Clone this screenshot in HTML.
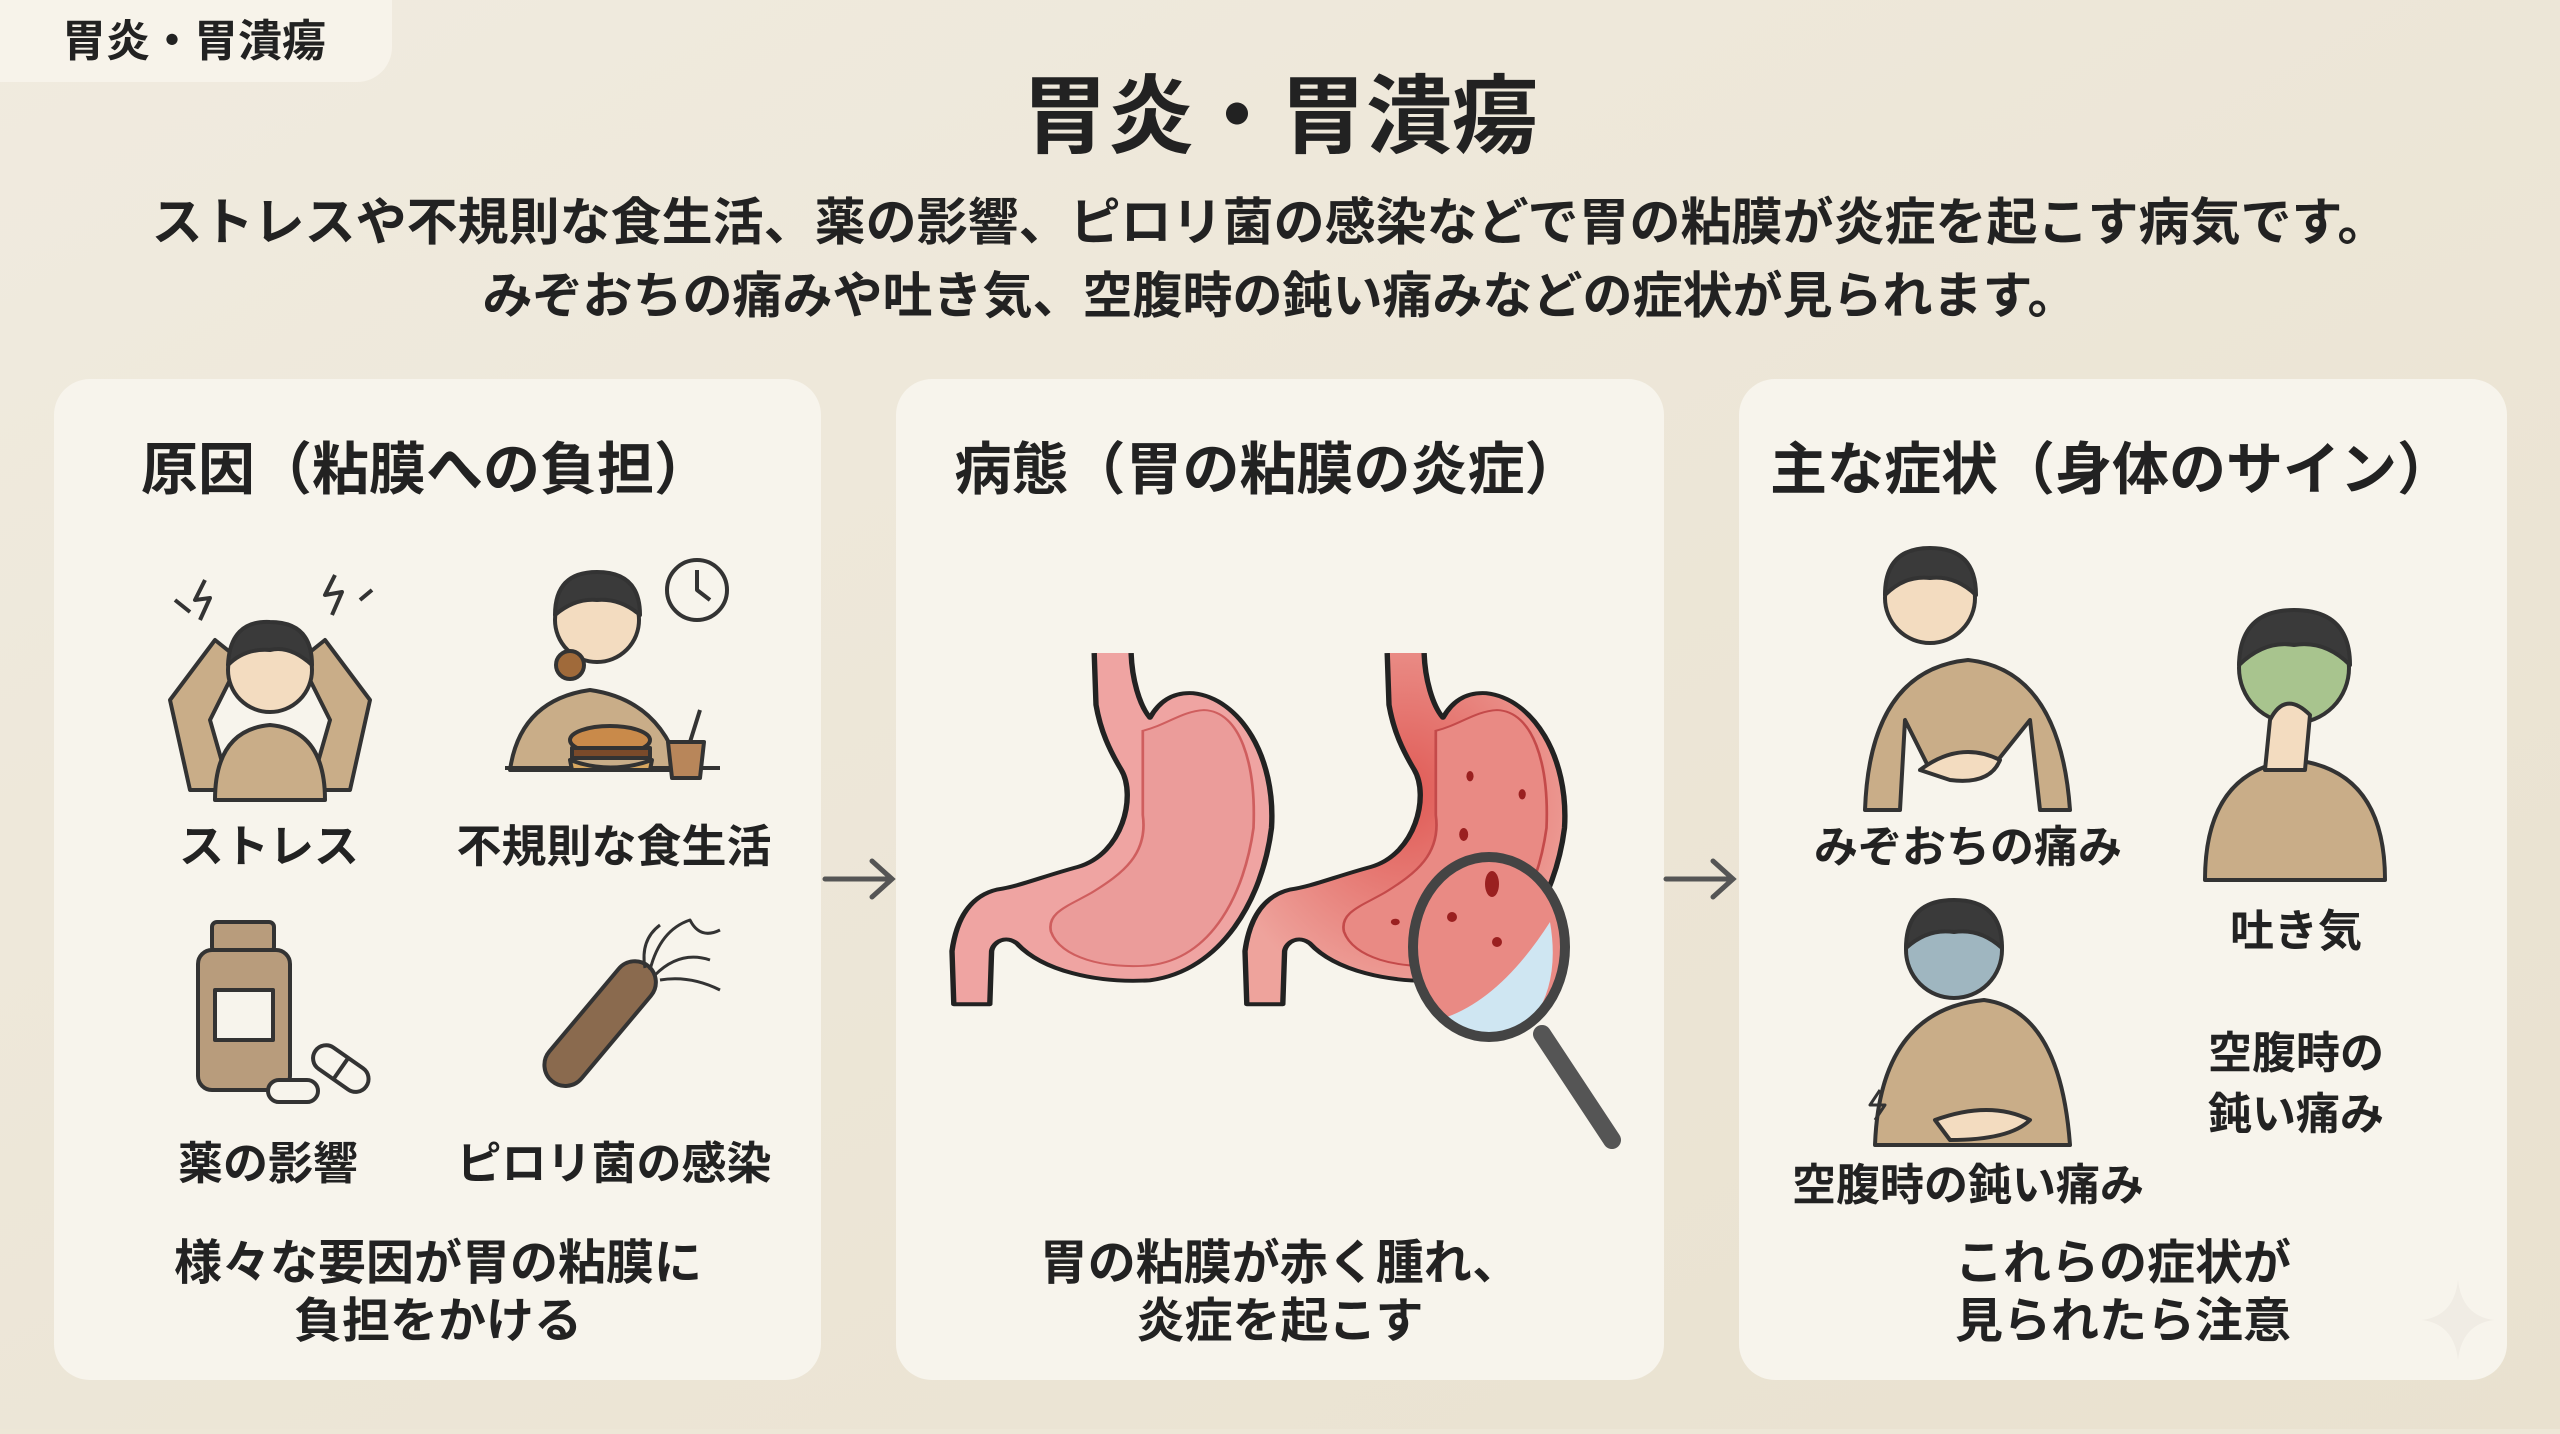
<!DOCTYPE html>
<html><head><meta charset="utf-8"><style>
html,body{margin:0;padding:0;}
body{width:2560px;height:1429px;overflow:hidden;background:#ede7d7;}
svg text{font-family:"Liberation Sans","Noto Sans CJK JP",sans-serif;font-weight:700;fill:#222;}
</style></head><body>
<svg width="2560" height="1429" viewBox="0 0 2560 1429" xmlns="http://www.w3.org/2000/svg">
<defs>
<linearGradient id="bg" x1="0" y1="0" x2="1" y2="1"><stop offset="0" stop-color="#f0ebdf"/><stop offset="1" stop-color="#e9e1cf"/></linearGradient>
<radialGradient id="inf" cx="0.5" cy="0.4" r="0.6"><stop offset="0" stop-color="#e05a55"/><stop offset="1" stop-color="#eea39c"/></radialGradient>
</defs>
<rect width="2560" height="1429" fill="url(#bg)"/>
<path d="M0 0H392V47A35 35 0 0 1 357 82H0Z" fill="#f7f3ea"/>
<text x="62" y="56" font-size="44">胃炎・胃潰瘍</text>
<text x="1280" y="146" font-size="86" text-anchor="middle">胃炎・胃潰瘍</text>
<text x="1270" y="240" font-size="51" text-anchor="middle">ストレスや不規則な食生活、薬の影響、ピロリ菌の感染などで胃の粘膜が炎症を起こす病気です。</text>
<text x="1280" y="313" font-size="50" text-anchor="middle">みぞおちの痛みや吐き気、空腹時の鈍い痛みなどの症状が見られます。</text>

<rect x="54" y="379" width="767" height="1001" rx="36" fill="#f7f4ec"/>
<rect x="896" y="379" width="768" height="1001" rx="36" fill="#f7f4ec"/>
<rect x="1739" y="379" width="768" height="1001" rx="36" fill="#f7f4ec"/>

<text x="426" y="489" font-size="57" text-anchor="middle">原因（粘膜への負担）</text>
<text x="1268" y="489" font-size="57" text-anchor="middle">病態（胃の粘膜の炎症）</text>
<text x="2112" y="489" font-size="57" text-anchor="middle">主な症状（身体のサイン）</text>

<g stroke="#555" stroke-width="5" fill="none" stroke-linecap="round">
<path d="M825 879H890M872 861L892 879L872 897"/>
<path d="M1666 879H1731M1713 861L1733 879L1713 897"/>
</g>

<g stroke="#333" stroke-width="4" stroke-linejoin="round">
 <path d="M190 790 L170 700 L215 640 L240 660 L210 720 L230 790Z" fill="#c9ad88"/>
 <path d="M350 790 L370 700 L325 640 L300 660 L330 720 L310 790Z" fill="#c9ad88"/>
 <path d="M215 800 Q215 730 270 725 Q325 730 325 800Z" fill="#c9ad88"/>
 <circle cx="270" cy="670" r="42" fill="#f3dcc0"/>
 <path d="M228 665 Q230 620 270 622 Q312 622 312 665 Q290 645 270 650 Q245 648 228 665Z" fill="#3a3a3a"/>
 <path d="M205 580 L195 600 L210 598 L200 620 M335 575 L325 595 L342 592 L332 615 M175 600 L190 612 M360 600 L372 590" fill="none"/>
 <path d="M510 770 Q520 700 590 690 Q660 700 680 770Z" fill="#c9ad88"/>
 <circle cx="597" cy="620" r="42" fill="#f3dcc0"/>
 <path d="M555 615 Q555 572 597 572 Q640 572 640 615 Q620 598 597 600 Q575 598 555 615Z" fill="#3a3a3a"/>
 <path d="M505 768 H720" />
 <ellipse cx="610" cy="740" rx="40" ry="14" fill="#c98a4a"/>
 <rect x="572" y="748" width="78" height="10" fill="#7a4a2a"/>
 <path d="M570 760 Q610 775 652 760 L650 770 H572Z" fill="#d9a860"/>
 <path d="M668 742 L672 778 H700 L704 742Z" fill="#b8865a"/>
 <path d="M690 742 L700 710" fill="none"/>
 <circle cx="697" cy="590" r="30" fill="#f7f4ec"/>
 <path d="M697 570 V590 L710 600" fill="none"/>
 <circle cx="570" cy="665" r="14" fill="#a06a3a"/>
 <rect x="212" y="922" width="62" height="30" rx="5" fill="#b89c7c"/>
 <rect x="198" y="950" width="92" height="140" rx="14" fill="#b89c7c"/>
 <rect x="215" y="990" width="58" height="50" fill="#f7f4ec"/>
 <g transform="rotate(35 340 1068)"><rect x="310" y="1055" width="62" height="26" rx="13" fill="#f7f4ec"/><path d="M341 1055V1081" fill="none"/></g>
 <rect x="268" y="1080" width="50" height="22" rx="11" fill="#f7f4ec"/>
 <g transform="rotate(-50 600 1030)"><rect x="530" y="1005" width="150" height="42" rx="21" fill="#8a6a4e"/></g>
 <path d="M650 970 Q660 930 690 920 Q700 940 720 930 M655 975 Q680 950 710 960 M645 968 Q640 940 660 925 M660 980 Q690 975 720 990" fill="none" stroke-width="3"/>
</g>
<text x="269" y="862" font-size="45" text-anchor="middle">ストレス</text>
<text x="614" y="862" font-size="45" text-anchor="middle">不規則な食生活</text>
<text x="268" y="1179" font-size="45" text-anchor="middle">薬の影響</text>
<text x="614" y="1179" font-size="45" text-anchor="middle">ピロリ菌の感染</text>
<text x="438" y="1279" font-size="48" text-anchor="middle">様々な要因が胃の粘膜に</text>
<text x="438" y="1337" font-size="48" text-anchor="middle">負担をかける</text>

<g transform="matrix(0.9 0 0 0.648 124 212.4)">
<path d="M1078 680 L1080 760 C1085 800 1095 830 1108 860 C1125 900 1110 990 1060 1010 C1020 1025 995 1040 970 1045 C940 1055 925 1090 920 1140 L922 1222 L962 1222 L964 1140 C966 1125 980 1115 992 1128 C1020 1170 1080 1190 1140 1185 C1220 1170 1265 1060 1275 950 C1280 840 1240 750 1188 742 C1165 740 1150 755 1140 780 C1128 760 1120 720 1119 680" fill="#efa4a2" stroke="#222" stroke-width="6" stroke-linejoin="round"/>
<path d="M1132 800 C1160 790 1175 770 1200 768 C1240 770 1258 850 1255 950 C1245 1050 1210 1150 1140 1162 C1090 1168 1040 1150 1030 1110 C1025 1080 1050 1070 1075 1050 C1110 1020 1138 990 1132 930 Z" fill="#eb9c9a" stroke="#cf5e5e" stroke-width="3"/>
</g>
<g transform="translate(293 0) matrix(0.9 0 0 0.648 124 212.4)">
<path d="M1078 680 L1080 760 C1085 800 1095 830 1108 860 C1125 900 1110 990 1060 1010 C1020 1025 995 1040 970 1045 C940 1055 925 1090 920 1140 L922 1222 L962 1222 L964 1140 C966 1125 980 1115 992 1128 C1020 1170 1080 1190 1140 1185 C1220 1170 1265 1060 1275 950 C1280 840 1240 750 1188 742 C1165 740 1150 755 1140 780 C1128 760 1120 720 1119 680" fill="url(#inf)" stroke="#222" stroke-width="6" stroke-linejoin="round"/>
<path d="M1132 800 C1160 790 1175 770 1200 768 C1240 770 1258 850 1255 950 C1245 1050 1210 1150 1140 1162 C1090 1168 1040 1150 1030 1110 C1025 1080 1050 1070 1075 1050 C1110 1020 1138 990 1132 930 Z" fill="#e98a84" stroke="#c44a4a" stroke-width="3"/>
<g fill="#9a2020"><ellipse cx="1170" cy="870" rx="4" ry="8"/><ellipse cx="1228" cy="898" rx="4" ry="8"/><ellipse cx="1163" cy="960" rx="5" ry="10"/><circle cx="1087" cy="1095" r="5"/></g>
</g>
<ellipse cx="1489" cy="947" rx="76" ry="90" fill="#e98a84"/>
<path d="M1447 1017 Q1502 997 1550 922 Q1562 992 1522 1032 Q1482 1047 1447 1017Z" fill="#cfe6f2"/>
<ellipse cx="1489" cy="947" rx="76" ry="90" fill="none" stroke="#444" stroke-width="10"/>
<ellipse cx="1492" cy="884" rx="7" ry="13" fill="#9a2020"/><circle cx="1452" cy="917" r="5" fill="#9a2020"/><circle cx="1497" cy="942" r="5" fill="#9a2020"/>
<path d="M1542 1034 L1612 1140" stroke="#555" stroke-width="18" stroke-linecap="round"/>
<text x="1280" y="1279" font-size="48" text-anchor="middle">胃の粘膜が赤く腫れ、</text>
<text x="1280" y="1337" font-size="48" text-anchor="middle">炎症を起こす</text>

<g stroke="#333" stroke-width="4" stroke-linejoin="round">
 <path d="M1865 810 Q1870 670 1968 660 Q2060 670 2070 810 L2040 810 L2030 720 L1990 770 L1930 770 L1905 720 L1900 810Z" fill="#c9ad88"/>
 <path d="M1920 770 Q1960 740 2000 760 Q1990 785 1950 780Z" fill="#f3dcc0"/>
 <circle cx="1930" cy="598" r="45" fill="#f3dcc0"/>
 <path d="M1885 595 Q1885 548 1930 548 Q1976 548 1976 595 Q1955 575 1930 578 Q1905 575 1885 595Z" fill="#3a3a3a"/>
 <path d="M2205 880 Q2205 770 2294 760 Q2385 770 2385 880Z" fill="#c9ad88"/>
 <circle cx="2294" cy="668" r="55" fill="#a8c48e"/>
 <path d="M2239 665 Q2240 610 2294 610 Q2350 610 2350 665 Q2325 640 2294 645 Q2265 640 2239 665Z" fill="#3a3a3a"/>
 <path d="M2270 720 Q2285 690 2310 715 L2305 770 L2265 770Z" fill="#f3dcc0"/>
 <path d="M1875 1145 Q1880 1010 1984 1000 Q2060 1010 2070 1145Z" fill="#c9ad88"/>
 <path d="M1935 1120 Q1990 1100 2030 1120 Q2010 1140 1950 1140Z" fill="#f3dcc0"/>
 <circle cx="1954" cy="950" r="48" fill="#9fb6c0"/>
 <path d="M1906 948 Q1906 900 1954 900 Q2002 900 2002 948 Q1980 928 1954 932 Q1928 928 1906 948Z" fill="#3a3a3a"/>
 <path d="M1880 1090 L1870 1105 L1885 1105 L1875 1120" fill="none" stroke-width="3"/>
</g>
<text x="1968" y="862" font-size="44" text-anchor="middle">みぞおちの痛み</text>
<text x="2296" y="946" font-size="44" text-anchor="middle">吐き気</text>
<text x="2296" y="1068" font-size="44" text-anchor="middle">空腹時の</text>
<text x="2296" y="1129" font-size="44" text-anchor="middle">鈍い痛み</text>
<text x="1968" y="1200" font-size="44" text-anchor="middle">空腹時の鈍い痛み</text>
<text x="2123" y="1279" font-size="48" text-anchor="middle">これらの症状が</text>
<text x="2123" y="1337" font-size="48" text-anchor="middle">見られたら注意</text>
<path d="M2458 1280 Q2462 1316 2494 1320 Q2462 1324 2458 1360 Q2454 1324 2422 1320 Q2454 1316 2458 1280Z" fill="#f0ece4"/>
</svg>
</body></html>
